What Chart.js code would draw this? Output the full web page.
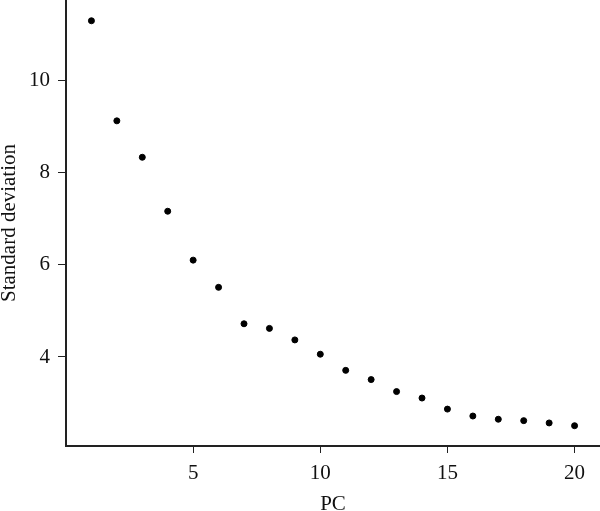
<!DOCTYPE html>
<html>
<head>
<meta charset="utf-8">
<script src="https://cdn.jsdelivr.net/npm/chart.js@4/dist/chart.umd.min.js"></script>
<style>
  html, body { margin: 0; padding: 0; background: #fff; }
  #wrap { width: 600px; height: 511px; }
</style>
</head>
<body>
<div id="wrap"><canvas id="pcChart"></canvas></div>
<script>
const pcs = [1,2,3,4,5,6,7,8,9,10,11,12,13,14,15,16,17,18,19,20];
const stdDev = [11.29, 9.12, 8.33, 7.16, 6.10, 5.51, 4.72, 4.62, 4.37, 4.06,
                3.71, 3.51, 3.25, 3.11, 2.87, 2.72, 2.65, 2.62, 2.57, 2.51];
const xTicks = [5, 10, 15, 20];
const yTicks = [4, 6, 8, 10];

const serif = "'Liberation Serif', 'DejaVu Serif', serif";
const ink = '#111';

const ctx = document.getElementById('pcChart');

new Chart(ctx, {
  type: 'scatter',
  data: {
    datasets: [{
      label: 'Standard deviation',
      data: pcs.map((p, i) => ({x: p, y: stdDev[i]})),
      backgroundColor: '#000',
      borderColor: '#000',
      pointRadius: 3,
      pointHoverRadius: 3
    }]
  },
  options: {
    responsive: true,
    maintainAspectRatio: false,
    animation: false,
    layout: { padding: 0, autoPadding: false },
    plugins: {
      legend: { display: false },
      tooltip: { enabled: false }
    },
    scales: {
      x: {
        type: 'linear',
        min: 0,
        max: 21,
        afterBuildTicks: (s) => { s.ticks = xTicks.map(v => ({value: v})); },
        afterFit: (s) => { s.height = 65; s.paddingLeft = 0; s.paddingRight = 0; },
        border: { display: true, color: '#222', width: 2 },
        grid: { display: true, drawOnChartArea: false, drawTicks: true, tickLength: 7, color: '#222', lineWidth: 1 },
        ticks: { color: ink, padding: 8, maxRotation: 0, font: { family: serif, size: 21 } },
        title: { display: true, text: 'PC', color: ink, padding: { top: 0, bottom: -6 }, font: { family: serif, size: 21 } }
      },
      y: {
        min: 2.07,
        max: 11.74,
        afterBuildTicks: (s) => { s.ticks = yTicks.map(v => ({value: v})); },
        afterFit: (s) => { s.width = 66; s.paddingTop = 0; s.paddingBottom = 0; },
        border: { display: true, color: '#222', width: 2 },
        grid: { display: true, drawOnChartArea: false, drawTicks: true, tickLength: 8, color: '#222', lineWidth: 1 },
        ticks: { color: ink, padding: 8, font: { family: serif, size: 21 } },
        title: { display: true, text: 'Standard deviation', color: ink, padding: { top: -3, bottom: 0 }, font: { family: serif, size: 21 } }
      }
    }
  }
});
</script>
</body>
</html>
